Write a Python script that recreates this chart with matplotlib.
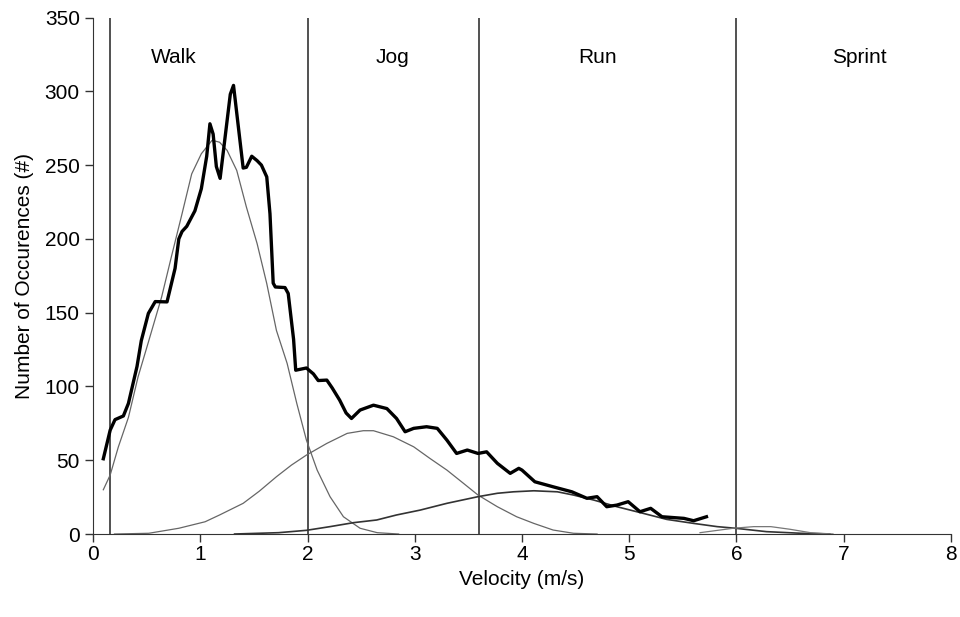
import matplotlib
matplotlib.use("Agg")
import matplotlib.pyplot as plt

plt.rcParams['font.family'] = ['Liberation Sans', 'DejaVu Sans']

# Measured (thick) velocity distribution
meas_x = [0.096, 0.16, 0.205, 0.283, 0.33, 0.41, 0.45, 0.516, 0.58, 0.69, 0.765, 0.80,
          0.83, 0.874, 0.95, 1.01, 1.06, 1.09, 1.12, 1.15, 1.185, 1.23, 1.28, 1.31,
          1.355, 1.40, 1.43, 1.48, 1.53, 1.57, 1.62, 1.65, 1.68, 1.70, 1.79, 1.82,
          1.87, 1.89, 1.99, 2.055, 2.10, 2.18, 2.23, 2.30, 2.36, 2.41, 2.49, 2.615, 2.74,
          2.83, 2.91, 2.99, 3.11, 3.21, 3.30, 3.39, 3.49, 3.59, 3.67, 3.77, 3.89,
          3.97, 4.0, 4.12, 4.29, 4.465, 4.605, 4.70, 4.79, 4.885, 4.99, 5.10, 5.20,
          5.305, 5.51, 5.60, 5.72]
meas_y = [51, 70.4, 77.5, 80, 88.5, 113.5, 131, 149.5, 157.5, 157.3, 180, 200,
          205, 208.5, 219, 234, 256, 278, 271, 249, 241, 268, 298, 304,
          276, 248, 248.5, 256, 253, 250, 242, 217, 170, 167.4, 167, 163,
          132, 111, 112.5, 108.5, 104, 104.3, 99, 90.7, 82, 78.3, 84, 87.3, 85,
          78.3, 69.3, 71.6, 72.7, 71.6, 63.6, 54.6, 56.9, 54.6, 55.7, 47.9, 41.1,
          44.5, 43.3, 35.4, 32, 28.6, 24.2, 25.3, 18.5, 19.6, 21.9, 15.1, 17.4,
          11.7, 10.6, 9, 11.7]

# Fitted component curves
walk_x = [0.096, 0.16, 0.236, 0.33, 0.42, 0.516, 0.64, 0.73, 0.83, 0.92, 1.01,
          1.11, 1.18, 1.25, 1.34, 1.43, 1.53, 1.62, 1.71, 1.81, 1.90, 1.99, 2.09,
          2.21, 2.335, 2.49, 2.65, 2.85]
walk_y = [30, 40, 59, 79, 106.5, 130, 160.7, 187.7, 217, 244, 257.7,
          266.8, 265.5, 260, 246.4, 221.6, 196.8, 169.7, 138, 115.6, 88.5, 63.6, 43.3,
          25.3, 11.7, 3.9, 0.9, 0]

jog_x = [0.2, 0.52, 0.80, 1.045, 1.18, 1.40, 1.55, 1.71, 1.85, 1.99, 2.18, 2.37,
         2.52, 2.615, 2.80, 2.99, 3.14, 3.30, 3.455, 3.59, 3.77, 3.95, 4.11, 4.29,
         4.48, 4.7]
jog_y = [0, 0.5, 3.9, 8.3, 12.9, 20.8, 29, 38.8, 46.7, 53.5, 61.4, 68.2,
         70, 70, 65.9, 59.1, 51.3, 43.3, 34.3, 26.4, 18.5, 11.7, 7.2, 2.7,
         0.5, 0]

run_x = [1.32, 1.73, 1.99, 2.21, 2.43, 2.645, 2.83, 3.05, 3.30, 3.59, 3.77, 3.92,
         4.11, 4.33, 4.48, 4.67, 4.885, 5.13, 5.35, 5.60, 5.82, 5.99, 6.28, 6.6, 6.87]
run_y = [0, 0.9, 2.5, 5, 7.7, 9.5, 12.9, 16.2, 20.8, 25.3, 27.6, 28.6,
         29.3, 28.6, 26.4, 23, 18.5, 14, 9.9, 7.2, 5, 3.9, 1.6, 0.5, 0]

sprint_x = [5.66, 5.97, 6.16, 6.32, 6.50, 6.69, 6.9]
sprint_y = [0.9, 3.9, 5, 5, 3.2, 0.9, 0]

# Zone boundaries and labels
bounds = [0.16, 2.0, 3.6, 6.0]
zone_labels = ['Walk', 'Jog', 'Run', 'Sprint']
zone_label_x = [0.75, 2.79, 4.7, 7.15]

x_ticks = [0, 1, 2, 3, 4, 5, 6, 7, 8]
y_ticks = [0, 50, 100, 150, 200, 250, 300, 350]

fs = 15

fig = plt.figure(figsize=(9.6, 6.17), dpi=100)
ax = fig.add_axes([0.0969, 0.1345, 0.8937, 0.8371])

for b in bounds:
    ax.plot([b, b], [0, 350], color='#333333', lw=1.2)

ax.plot(walk_x, walk_y, color='#666666', lw=0.9)
ax.plot(jog_x, jog_y, color='#666666', lw=0.9)
ax.plot(run_x, run_y, color='#333333', lw=1.2)
ax.plot(sprint_x, sprint_y, color='#777777', lw=0.9)
ax.plot(meas_x, meas_y, color='black', lw=2.4, solid_joinstyle='round')

for lab, lx in zip(zone_labels, zone_label_x):
    ax.text(lx, 323, lab, ha='center', va='center', fontsize=fs)

ax.set_xlim(0, 8)
ax.set_ylim(0, 350)
ax.set_xticks(x_ticks)
ax.set_yticks(y_ticks)
ax.spines['top'].set_visible(False)
ax.spines['right'].set_visible(False)
ax.spines['left'].set_color('#333333')
ax.spines['bottom'].set_color('#333333')
ax.tick_params(axis='both', direction='out', length=6, width=1, colors='#333333',
               labelsize=fs, labelcolor='black')
ax.tick_params(axis='x', pad=2)
ax.set_xlabel('Velocity (m/s)', fontsize=fs, labelpad=4)
ax.set_ylabel('Number of Occurences (#)', fontsize=fs, labelpad=8)

fig.savefig('out.png', dpi=100)
